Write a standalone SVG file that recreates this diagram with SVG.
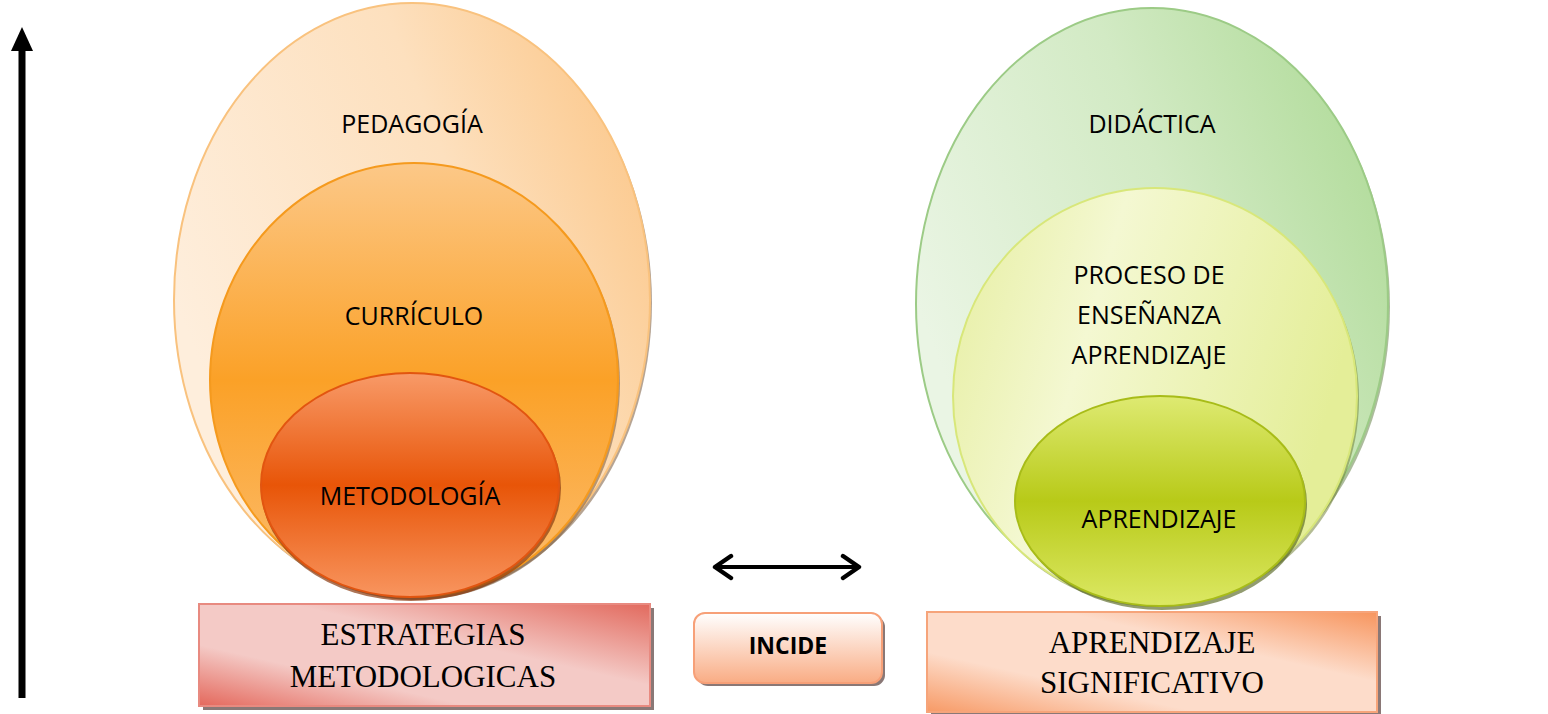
<svg xmlns="http://www.w3.org/2000/svg" width="1548" height="714" viewBox="0 0 1548 714">
<defs>
<style>
.lbl{font-family:"Open Sans","Liberation Sans",sans-serif;font-size:25px;fill:#000;text-anchor:middle}
.box{font-family:"Liberation Serif","Times New Roman",serif;font-size:31px;fill:#000;text-anchor:middle}
.bold{font-family:"Open Sans","Liberation Sans",sans-serif;font-size:23px;font-weight:bold;fill:#000;text-anchor:middle}
.shadow{fill:#7a5a3a;opacity:0.55}
.boxshadow{fill:#8a7876}
</style>
<linearGradient id="gPed" x1="0" y1="0.5" x2="1" y2="0">
<stop offset="0" stop-color="#FEEEDC"/><stop offset="0.55" stop-color="#FDE0BE"/><stop offset="1" stop-color="#FBC27F"/>
</linearGradient>
<linearGradient id="gCur" x1="0" y1="0" x2="0" y2="1">
<stop offset="0" stop-color="#FCC888"/><stop offset="0.5" stop-color="#FBA127"/><stop offset="1" stop-color="#FCBE72"/>
</linearGradient>
<linearGradient id="gMet" x1="0" y1="0" x2="0" y2="1">
<stop offset="0" stop-color="#F89A68"/><stop offset="0.5" stop-color="#E85508"/><stop offset="1" stop-color="#F8955F"/>
</linearGradient>
<linearGradient id="gDid" x1="0" y1="0.5" x2="1" y2="0">
<stop offset="0" stop-color="#EAF5E4"/><stop offset="0.5" stop-color="#D2EAC4"/><stop offset="1" stop-color="#A9D890"/>
</linearGradient>
<linearGradient id="gPro" x1="0" y1="0" x2="1" y2="0.3">
<stop offset="0" stop-color="#E6EEA0"/><stop offset="0.4" stop-color="#F4F8D2"/><stop offset="1" stop-color="#E4EE98"/>
</linearGradient>
<linearGradient id="gApr" x1="0" y1="0" x2="0" y2="1">
<stop offset="0" stop-color="#DEEA72"/><stop offset="0.5" stop-color="#B8CA18"/><stop offset="1" stop-color="#DCE864"/>
</linearGradient>
<linearGradient id="gEst" x1="0" y1="1" x2="1" y2="0">
<stop offset="0" stop-color="#E4685C"/><stop offset="0.3" stop-color="#F4CAC6"/><stop offset="0.6" stop-color="#F4CAC6"/><stop offset="1" stop-color="#E26A5E"/>
</linearGradient>
<linearGradient id="gSig" x1="0" y1="1" x2="1" y2="0">
<stop offset="0" stop-color="#F79A66"/><stop offset="0.3" stop-color="#FDDCCA"/><stop offset="0.65" stop-color="#FDDCCA"/><stop offset="1" stop-color="#F7955E"/>
</linearGradient>
<linearGradient id="gInc" x1="0" y1="0" x2="0" y2="1">
<stop offset="0" stop-color="#FFFFFF"/><stop offset="1" stop-color="#F9AC84"/>
</linearGradient>
<marker id="chev" viewBox="0 0 12 14" refX="10" refY="7" markerWidth="6" markerHeight="7" orient="auto-start-reverse" markerUnits="strokeWidth">
<path d="M2,1.5 L10,7 L2,12.5" fill="none" stroke="#000" stroke-width="2.2" stroke-linecap="round" stroke-linejoin="round"/>
</marker>
</defs>
<rect width="1548" height="714" fill="#fff"/>

<g id="pedagogia">
<ellipse class="shadow" cx="414" cy="303" rx="238" ry="297"/>
<ellipse cx="412" cy="300" rx="238" ry="297" fill="url(#gPed)" stroke="#F9C27E" stroke-width="2"/>
<text class="lbl" x="412" y="133">PEDAGOGÍA</text>
</g>
<g id="curriculo">
<ellipse class="shadow" cx="416" cy="383" rx="204" ry="217"/>
<ellipse cx="414" cy="380" rx="204" ry="217" fill="url(#gCur)" stroke="#F59A1E" stroke-width="2"/>
<text class="lbl" x="414" y="325">CURRÍCULO</text>
</g>
<g id="metodologia">
<ellipse cx="411" cy="488" rx="150" ry="113" fill="#8a3a10" opacity="0.7"/>
<ellipse cx="410" cy="485" rx="149" ry="112" fill="url(#gMet)" stroke="#E25510" stroke-width="2"/>
<text class="lbl" x="410" y="505">METODOLOGÍA</text>
</g>

<g id="didactica">
<ellipse cx="1154" cy="307" rx="236" ry="296" fill="#5a7a3a" opacity="0.5"/>
<ellipse cx="1152" cy="304" rx="236" ry="296" fill="url(#gDid)" stroke="#9CCB86" stroke-width="2"/>
<text class="lbl" x="1152" y="133">DIDÁCTICA</text>
</g>
<g id="proceso">
<ellipse cx="1157" cy="399" rx="202" ry="208" fill="#6a7a2a" opacity="0.5"/>
<ellipse cx="1155" cy="396" rx="202" ry="208" fill="url(#gPro)" stroke="#D8E77A" stroke-width="2"/>
<text class="lbl" x="1149" y="284">PROCESO DE</text>
<text class="lbl" x="1149" y="324">ENSEÑANZA</text>
<text class="lbl" x="1149" y="364">APRENDIZAJE</text>
</g>
<g id="aprendizaje">
<ellipse cx="1162" cy="504" rx="145" ry="106" fill="#4a5a10" opacity="0.6"/>
<ellipse cx="1160" cy="501" rx="145" ry="105" fill="url(#gApr)" stroke="#A8BC18" stroke-width="2"/>
<text class="lbl" x="1159" y="528">APRENDIZAJE</text>
</g>

<g id="estrategias">
<rect class="boxshadow" x="203" y="608" width="451" height="102"/>
<rect x="199" y="604" width="451" height="102" fill="url(#gEst)" stroke="#E88A80" stroke-width="2"/>
<text class="box" x="423" y="645">ESTRATEGIAS</text>
<text class="box" x="423" y="687">METODOLOGICAS</text>
</g>
<g id="incide">
<rect class="boxshadow" x="697" y="616" width="188" height="70" rx="11"/>
<rect x="694" y="613" width="188" height="70" rx="11" fill="url(#gInc)" stroke="#F7A078" stroke-width="2"/>
<text class="bold" x="788" y="654">INCIDE</text>
</g>
<g id="significativo">
<rect class="boxshadow" x="931" y="616" width="450" height="100"/>
<rect x="927" y="612" width="450" height="100" fill="url(#gSig)" stroke="#F6A47A" stroke-width="2"/>
<text class="box" x="1152" y="653">APRENDIZAJE</text>
<text class="box" x="1152" y="693">SIGNIFICATIVO</text>
</g>

<g id="connectors">
<line x1="22" y1="698" x2="22" y2="48" stroke="#000" stroke-width="7"/>
<polygon points="22,27 11,51 33,51" fill="#000"/>
<line x1="715" y1="567" x2="859" y2="567" stroke="#000" stroke-width="4" marker-start="url(#chev)" marker-end="url(#chev)"/>
</g>
</svg>
